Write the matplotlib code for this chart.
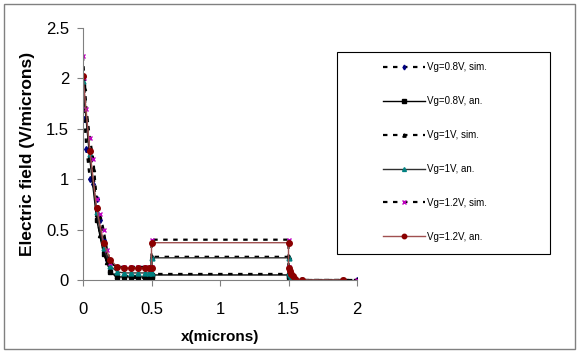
import matplotlib
matplotlib.use("Agg")
import matplotlib.pyplot as plt
from matplotlib.patches import Rectangle

plt.rcParams["font.family"] = ["Liberation Sans", "DejaVu Sans"]

# analytic model points
x_an = [0, 0.05, 0.1, 0.15, 0.2, 0.25, 0.3, 0.35, 0.4, 0.45, 0.48, 0.5,
        0.5, 1.5, 1.5, 1.51, 1.52, 1.53, 1.55, 1.6, 1.9]
e_an_08 = [1.92, 1.2, 0.6, 0.26, 0.08, 0.03, 0.03, 0.03, 0.03, 0.03, 0.03, 0.03,
           0.05, 0.05, 0.03, 0.02, 0.01, 0.01, 0.0, 0.0, 0.0]
e_an_10 = [1.97, 1.25, 0.67, 0.32, 0.14, 0.08, 0.07, 0.07, 0.07, 0.07, 0.07, 0.07,
           0.22, 0.22, 0.07, 0.05, 0.03, 0.02, 0.01, 0.0, 0.0]
e_an_12 = [2.02, 1.28, 0.71, 0.37, 0.2, 0.13, 0.12, 0.12, 0.12, 0.12, 0.12, 0.12,
           0.37, 0.37, 0.12, 0.09, 0.06, 0.04, 0.01, 0.0, 0.0]

# simulation points
x_sim = [0, 0.01, 0.025, 0.05, 0.075, 0.1, 0.125, 0.15, 0.175, 0.2, 0.25, 0.3,
         0.35, 0.4, 0.45, 0.5, 0.5, 1.5, 1.5, 1.52, 1.55, 1.6, 2.0]
e_sim_08 = [1.8, 1.6, 1.3, 1.0, 0.95, 0.8, 0.6, 0.4, 0.2, 0.1, 0.02, 0.02,
            0.02, 0.02, 0.02, 0.02, 0.06, 0.06, 0.02, 0.01, 0.0, 0.0, 0.0]
e_sim_10 = [2.0, 1.9, 1.6, 1.2, 1.1, 0.65, 0.45, 0.3, 0.18, 0.1, 0.04, 0.04,
            0.04, 0.04, 0.04, 0.04, 0.23, 0.23, 0.04, 0.02, 0.0, 0.0, 0.0]
e_sim_12 = [2.22, 2.0, 1.7, 1.41, 1.2, 0.8, 0.65, 0.5, 0.3, 0.17, 0.13, 0.13,
            0.13, 0.13, 0.13, 0.13, 0.4, 0.4, 0.13, 0.06, 0.0, 0.0, 0.0]

labels = ["Vg=0.8V, sim.", "Vg=0.8V, an.", "Vg=1V, sim.",
          "Vg=1V, an.", "Vg=1.2V, sim.", "Vg=1.2V, an."]

W, H = 579, 352
fig = plt.figure(figsize=(W / 100, H / 100), dpi=100)
# outer chart border
fig.patches.append(Rectangle((4 / W, 3 / H), 571 / W, 345 / H, transform=fig.transFigure,
                             fill=False, edgecolor="#808080", linewidth=1))
ax = fig.add_axes([83 / W, 1 - 280 / H, 274 / W, 252 / H])

lines = []
lines += ax.plot(x_sim, e_sim_08, "--", color="black", lw=1.6, dashes=(2, 2.5),
                 marker="d", ms=3, mfc="navy", mec="navy")
lines += ax.plot(x_an, e_an_08, "-", color="black", lw=1.0,
                 marker="s", ms=3.5, mfc="black", mec="black")
lines += ax.plot(x_sim, e_sim_10, "--", color="black", lw=1.6, dashes=(2, 2.5),
                 marker="^", ms=3, mfc="black", mec="black")
lines += ax.plot(x_an, e_an_10, "-", color="#303030", lw=1.0,
                 marker="^", ms=3.5, mfc="teal", mec="teal")
lines += ax.plot(x_sim, e_sim_12, "--", color="black", lw=1.6, dashes=(2, 2.5),
                 marker="x", ms=3, mfc="m", mec="m")
lines += ax.plot(x_an, e_an_12, "-", color="#a05050", lw=1.0,
                 marker="o", ms=4, mfc="darkred", mec="darkred")

ax.set_xlim(0, 2)
ax.set_ylim(0, 2.5)
ax.set_xticks([0, 0.5, 1, 1.5, 2])
ax.set_xticklabels(["0", "0.5", "1", "1.5", "2"])
ax.set_yticks([0, 0.5, 1, 1.5, 2, 2.5])
ax.set_yticklabels(["0", "0.5", "1", "1.5", "2", "2.5"])
ax.tick_params(labelsize=12, color="#808080", length=4)
ax.tick_params(axis="x", pad=12)
ax.tick_params(axis="y", pad=6)
for s in ["top", "right"]:
    ax.spines[s].set_visible(False)
for s in ["left", "bottom"]:
    ax.spines[s].set_color("#808080")
ax.set_xlabel("x(microns)", fontsize=11, fontweight="bold", labelpad=9)
ax.set_ylabel("Electric field (V/microns)", fontsize=12.5, fontweight="bold", labelpad=8)

# legend box drawn separately for the wide side padding
fig.patches.append(Rectangle((337 / W, 1 - 254 / H), 213 / W, 202 / H,
                             transform=fig.transFigure, fill=False,
                             edgecolor="black", linewidth=0.8))
leg = fig.legend(lines, labels, loc="center left", bbox_to_anchor=(378 / W, 1 - 152 / H),
                 fontsize=7, frameon=False, handlelength=4.3, labelspacing=2.45,
                 borderpad=0, handletextpad=0.2, markerscale=0.8)

fig.savefig("out.png", dpi=100)
